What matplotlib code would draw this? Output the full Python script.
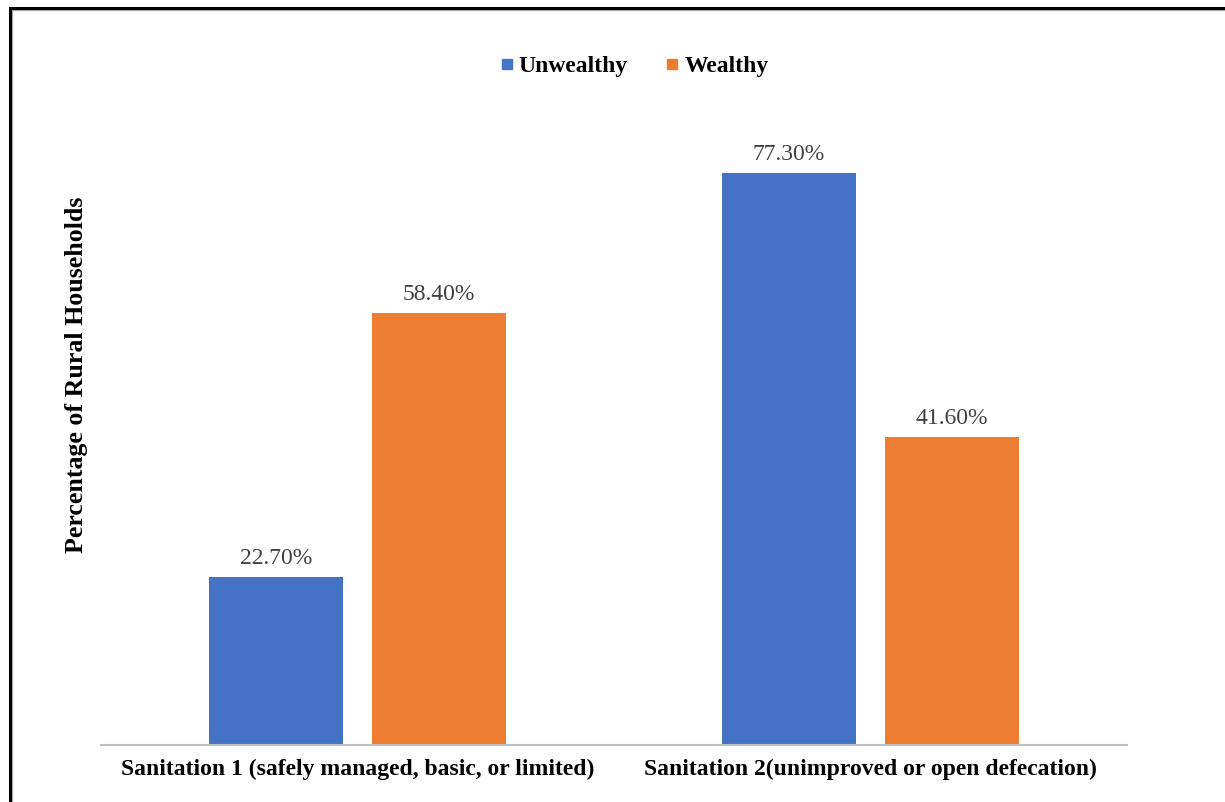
import matplotlib.pyplot as plt
from matplotlib.lines import Line2D
from matplotlib.patches import Rectangle
import numpy as np

categorias = ['Sanitation 1 (safely managed, basic, or limited)',
              'Sanitation 2(unimproved or open defecation)']
series = ['Unwealthy', 'Wealthy']
unwealthy = [22.7, 77.3]
wealthy = [58.4, 41.6]
colores = ['#4472C4', '#ED7D31']

plt.rcParams['font.family'] = ['Liberation Serif', 'DejaVu Serif']

fig = plt.figure(figsize=(12.25, 8.02), dpi=100)
ax = fig.add_axes([101 / 1225, 1 - 745 / 802, 1026 / 1225, 0.83])

x = np.arange(len(categorias))
ancho = 0.26
desp = 0.159
for valores, color, d in zip([unwealthy, wealthy], colores, [-desp, desp]):
    barras = ax.bar(x + d, valores, width=ancho, color=color)
    for b, v in zip(barras, valores):
        ax.annotate(f'{v:.2f}%', (b.get_x() + b.get_width() / 2, v),
                    xytext=(0, 6), textcoords='offset points',
                    ha='center', va='bottom', fontsize=17, color='#404040')

ax.set_xlim(-0.5, 1.5)
ax.set_ylim(0, 90)
ax.set_yticks([])
ax.set_xticks(x)
ax.set_xticklabels(categorias, fontsize=17, fontweight='bold')
ax.tick_params(axis='x', length=0, pad=10)
for s in ['top', 'right', 'left']:
    ax.spines[s].set_visible(False)
ax.spines['bottom'].set_color('#BFBFBF')
ax.spines['bottom'].set_linewidth(1.5)
ax.set_ylabel('Percentage of Rural Households', fontsize=18.6,
              fontweight='bold')
ax.yaxis.set_label_coords(-0.0125, 0.556)

handles = [Line2D([], [], marker='s', linestyle='none', markersize=7.5,
                  color=c) for c in colores]
fig.legend(handles, series, loc='center', ncol=2, frameon=False,
           bbox_to_anchor=(634 / 1225, 1 - 66 / 802),
           prop={'size': 17, 'weight': 'bold'},
           handlelength=0.6, handletextpad=0.2, columnspacing=1.6)

# marco exterior
fig.patches.append(Rectangle((9.5 / 1225, -0.1), 1.2, 0.1 + (802 - 7.5) / 802,
                             transform=fig.transFigure, fill=False,
                             edgecolor='black', linewidth=2.2))
fig.patches.append(Rectangle((11.5 / 1225, -0.1), 1.2, 0.1 + (802 - 9.5) / 802,
                             transform=fig.transFigure, fill=False,
                             edgecolor='#A0A0A0', linewidth=0.8))

fig.savefig('out.png', dpi=100)
